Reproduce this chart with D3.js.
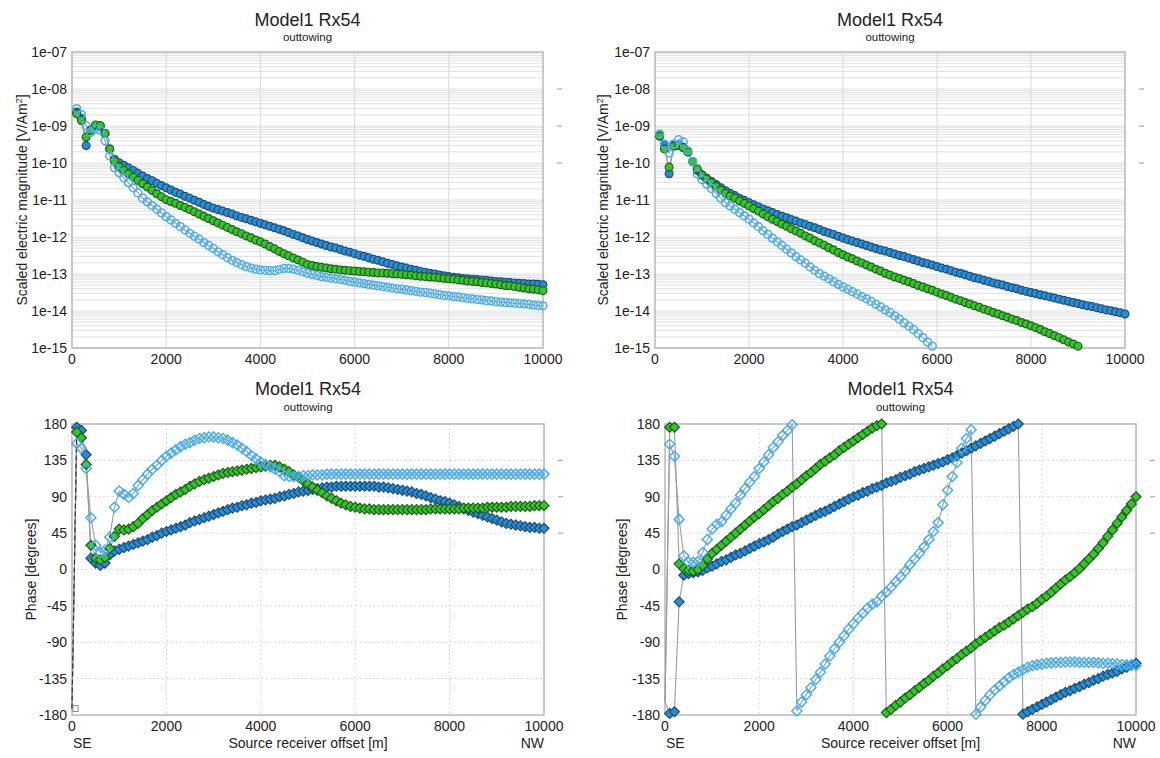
<!DOCTYPE html>
<html>
<head>
<meta charset="utf-8">
<script src="https://cdn.jsdelivr.net/npm/d3@7"></script>
<style>
  body { margin: 0; background: #fff; }
  svg { display: block; }
  text { font-family: "Liberation Sans", Arial, sans-serif; fill: #222; }
</style>
</head>
<body>
<svg id="chart" width="1160" height="758"></svg>
<script>
// ---- Data ---------------------------------------------------------------
// Samples every 100 m of source-receiver offset, first sample at 100 m.
const offsetStep = 100;
const xTicks = [0, 2000, 4000, 6000, 8000, 10000];
const magTickExponents = [-7, -8, -9, -10, -11, -12, -13, -14, -15];
const magTickLabels = ["1e-07", "1e-08", "1e-09", "1e-10", "1e-11", "1e-12", "1e-13", "1e-14", "1e-15"];
const magSideTicks = [1e-8, 1e-9, 1e-10];
const phaseTicks = [180, 135, 90, 45, 0, -45, -90, -135, -180];
const phaseSideTicks = [135, 90, 45];
const titleText = "Model1 Rx54";
const subtitleText = "outtowing";

// Magnitudes are stored as log10 of the scaled field [V/Am^2].
const magLeftDark = [
  -8.62,-8.80,-9.53,-9.10,-8.99,-9.00,-9.20,-9.62,-9.90,-9.99,
  -10.06,-10.13,-10.20,-10.28,-10.35,-10.42,-10.48,-10.55,-10.61,-10.67,
  -10.73,-10.79,-10.84,-10.90,-10.95,-11.01,-11.06,-11.12,-11.17,-11.22,
  -11.26,-11.30,-11.34,-11.38,-11.43,-11.47,-11.51,-11.55,-11.59,-11.63,
  -11.67,-11.71,-11.75,-11.79,-11.83,-11.88,-11.93,-11.97,-12.02,-12.07,
  -12.11,-12.15,-12.19,-12.23,-12.27,-12.30,-12.34,-12.38,-12.41,-12.45,
  -12.49,-12.52,-12.56,-12.60,-12.63,-12.67,-12.71,-12.74,-12.78,-12.81,
  -12.84,-12.87,-12.90,-12.93,-12.95,-12.98,-13.00,-13.03,-13.05,-13.07,
  -13.09,-13.10,-13.12,-13.13,-13.14,-13.15,-13.16,-13.17,-13.19,-13.20,
  -13.21,-13.22,-13.23,-13.24,-13.25,-13.26,-13.27,-13.27,-13.28,-13.29];
const magLeftGreen = [
  -8.67,-8.85,-9.30,-9.12,-8.97,-8.99,-9.20,-9.62,-9.95,-10.10,
  -10.20,-10.29,-10.38,-10.47,-10.56,-10.65,-10.74,-10.83,-10.91,-10.99,
  -11.04,-11.09,-11.15,-11.20,-11.26,-11.32,-11.38,-11.44,-11.50,-11.56,
  -11.62,-11.68,-11.74,-11.80,-11.86,-11.91,-11.97,-12.02,-12.08,-12.13,
  -12.19,-12.26,-12.32,-12.39,-12.45,-12.51,-12.57,-12.62,-12.68,-12.74,
  -12.77,-12.80,-12.82,-12.84,-12.86,-12.87,-12.89,-12.90,-12.91,-12.92,
  -12.93,-12.94,-12.95,-12.96,-12.97,-12.97,-12.98,-12.99,-13.00,-13.01,
  -13.02,-13.03,-13.05,-13.06,-13.07,-13.08,-13.09,-13.10,-13.12,-13.13,
  -13.14,-13.16,-13.17,-13.19,-13.20,-13.21,-13.23,-13.24,-13.26,-13.27,
  -13.29,-13.31,-13.32,-13.34,-13.36,-13.38,-13.40,-13.41,-13.43,-13.45];
const magLeftLight = [
  -8.53,-8.69,-8.99,-9.17,-9.08,-9.12,-9.40,-9.81,-10.13,-10.26,
  -10.40,-10.53,-10.67,-10.81,-10.95,-11.05,-11.15,-11.25,-11.35,-11.45,
  -11.54,-11.63,-11.72,-11.81,-11.90,-11.98,-12.06,-12.15,-12.23,-12.31,
  -12.40,-12.48,-12.56,-12.63,-12.69,-12.75,-12.80,-12.84,-12.87,-12.89,
  -12.90,-12.91,-12.91,-12.88,-12.85,-12.85,-12.87,-12.90,-12.94,-12.98,
  -13.01,-13.04,-13.07,-13.09,-13.11,-13.13,-13.15,-13.17,-13.20,-13.22,
  -13.24,-13.26,-13.28,-13.30,-13.32,-13.34,-13.36,-13.38,-13.40,-13.41,
  -13.43,-13.45,-13.47,-13.49,-13.50,-13.52,-13.54,-13.56,-13.58,-13.59,
  -13.61,-13.62,-13.64,-13.66,-13.67,-13.69,-13.70,-13.72,-13.73,-13.75,
  -13.76,-13.77,-13.78,-13.79,-13.80,-13.81,-13.82,-13.84,-13.85,-13.86];

const magRightDark = [
  -9.27,-9.50,-10.29,-9.50,-9.53,-9.58,-9.70,-9.96,-10.20,-10.32,
  -10.41,-10.50,-10.58,-10.67,-10.75,-10.82,-10.88,-10.95,-11.01,-11.07,
  -11.13,-11.18,-11.24,-11.29,-11.34,-11.39,-11.44,-11.48,-11.53,-11.57,
  -11.62,-11.66,-11.71,-11.75,-11.80,-11.85,-11.89,-11.93,-11.98,-12.03,
  -12.07,-12.11,-12.15,-12.19,-12.23,-12.27,-12.31,-12.35,-12.38,-12.42,
  -12.46,-12.50,-12.53,-12.57,-12.61,-12.65,-12.69,-12.72,-12.76,-12.80,
  -12.84,-12.87,-12.91,-12.95,-12.98,-13.02,-13.06,-13.10,-13.13,-13.17,
  -13.20,-13.24,-13.27,-13.30,-13.34,-13.37,-13.40,-13.44,-13.47,-13.50,
  -13.53,-13.56,-13.59,-13.62,-13.65,-13.68,-13.71,-13.74,-13.77,-13.80,
  -13.83,-13.86,-13.88,-13.91,-13.94,-13.97,-13.99,-14.02,-14.05,-14.08];
const magRightGreen = [
  -9.27,-9.62,-10.11,-9.55,-9.53,-9.58,-9.70,-9.96,-10.16,-10.33,
  -10.43,-10.53,-10.63,-10.73,-10.82,-10.89,-10.95,-11.02,-11.09,-11.16,
  -11.23,-11.30,-11.38,-11.45,-11.52,-11.58,-11.65,-11.71,-11.78,-11.84,
  -11.90,-11.97,-12.03,-12.10,-12.16,-12.22,-12.29,-12.35,-12.42,-12.48,
  -12.54,-12.59,-12.65,-12.70,-12.76,-12.81,-12.87,-12.92,-12.98,-13.03,
  -13.08,-13.12,-13.17,-13.21,-13.26,-13.31,-13.35,-13.40,-13.44,-13.49,
  -13.54,-13.58,-13.63,-13.68,-13.72,-13.77,-13.81,-13.86,-13.90,-13.95,
  -13.99,-14.04,-14.08,-14.13,-14.17,-14.22,-14.26,-14.31,-14.35,-14.40,
  -14.45,-14.50,-14.56,-14.61,-14.67,-14.72,-14.78,-14.84,-14.89,-14.95];
const magRightLight = [
  -9.22,-9.49,-9.73,-9.49,-9.37,-9.43,-9.67,-9.96,-10.29,-10.45,
  -10.57,-10.69,-10.82,-10.95,-11.07,-11.16,-11.25,-11.34,-11.43,-11.52,
  -11.62,-11.72,-11.83,-11.93,-12.03,-12.13,-12.23,-12.33,-12.43,-12.53,
  -12.62,-12.71,-12.81,-12.90,-12.99,-13.06,-13.13,-13.21,-13.28,-13.35,
  -13.41,-13.48,-13.54,-13.61,-13.67,-13.74,-13.82,-13.89,-13.97,-14.04,
  -14.13,-14.22,-14.32,-14.41,-14.50,-14.61,-14.72,-14.84,-14.95];

// Phases in degrees.
const phaseLeftDark = [
  176,172,142,14,8,5,8,18,23,25,
  27,29,31,33,35,37,40,42,45,47,
  49,51,53,55,58,60,62,64,66,68,
  70,72,74,76,77,79,80,82,83,85,
  86,87,88,90,91,93,94,96,97,98,
  99,100,101,102,102,103,103,103,103,103,
  103,103,103,103,102,102,101,100,99,98,
  97,96,94,93,91,89,87,85,84,82,
  80,78,75,73,71,69,67,65,63,61,
  59,57,56,55,54,53,52,52,51,51];
const phaseLeftGreen = [
  170,163,130,30,14,12,15,26,41,50,
  49,50,53,57,63,68,73,77,81,85,
  89,93,96,99,103,106,109,111,113,115,
  117,119,120,121,122,123,124,125,126,127,
  128,129,129,127,124,121,117,114,110,106,
  102,98,95,91,88,85,82,80,78,77,
  76,75,75,74,74,74,74,74,74,74,
  74,74,74,74,74,75,75,75,75,75,
  75,75,76,76,76,76,76,77,77,77,
  77,77,78,78,78,78,78,79,79,79];
const phaseLeftLight = [
  156,150,125,64,30,21,24,40,77,97,
  93,89,94,104,111,118,124,129,135,140,
  144,148,152,155,157,160,162,163,164,164,
  163,162,160,157,154,150,146,141,137,133,
  130,127,124,121,116,115,115,115,116,116,
  117,117,117,118,118,118,118,118,118,118,
  118,118,118,118,118,118,118,118,118,118,
  118,118,118,118,118,118,118,118,118,118,
  118,118,118,118,118,118,118,118,118,118,
  118,118,118,118,118,118,118,118,118,118];

const phaseRightDark = [
  -178,-176,-40,-7,-5,-4,-3,-1,2,4,
  7,10,12,15,18,20,23,26,29,32,
  34,37,40,44,47,50,53,55,58,61,
  64,67,70,72,75,78,81,84,87,90,
  92,95,97,100,102,104,107,109,111,114,
  116,118,121,123,125,127,129,131,133,136,
  138,141,144,147,150,153,156,159,162,165,
  168,171,174,177,180,-179,-176,-173,-170,-167,
  -164,-161,-158,-155,-152,-150,-147,-145,-142,-140,
  -137,-135,-132,-130,-128,-126,-123,-121,-118,-116];
const phaseRightGreen = [
  176,176,7,1,-1,-2,0,5,13,20,
  25,30,35,40,45,50,55,60,65,69,
  74,79,84,88,93,97,102,106,111,116,
  120,125,130,134,138,142,147,151,155,159,
  163,167,171,175,178,180,-177,-173,-168,-164,
  -159,-155,-150,-146,-141,-137,-132,-128,-123,-119,
  -114,-110,-105,-101,-97,-92,-88,-84,-80,-76,
  -72,-69,-65,-61,-57,-53,-49,-46,-42,-37,
  -33,-28,-23,-18,-13,-9,-4,1,7,13,
  19,26,33,41,49,57,65,73,81,90];
const phaseRightLight = [
  155,140,62,17,9,9,10,21,37,50,
  56,59,67,75,82,92,100,108,115,125,
  133,142,151,158,166,172,179,-175,-164,-155,
  -146,-136,-127,-117,-107,-98,-90,-82,-74,-67,
  -60,-54,-48,-43,-40,-33,-28,-22,-15,-9,
  -2,6,13,20,28,37,47,58,80,98,
  115,132,150,162,173,-179,-170,-162,-155,-149,
  -144,-139,-134,-130,-127,-124,-121,-119,-118,-117,
  -116,-115.5,-115,-115,-114.5,-114.5,-114.5,-115,-115,-115,
  -115,-115.5,-116,-116,-116.5,-117,-117.5,-118,-118.5,-119];

// Modelled phase at zero offset, where the model curves begin.
const phaseLeftModelStart = -172;
const phaseRightModelStart = -164;

// ---- Styles -------------------------------------------------------------
const styles = {
  dark:  { fill: "#2a8dd4", stroke: "#1b4c75", width: 1.2 },
  green: { fill: "#36c42c", stroke: "#1d5c17", width: 1.2 },
  light: { fill: "none",    stroke: "#47adef", width: 1.5 }
};

const panels = [
  { kind: "mag", x0: 72, x1: 543, y0: 52, y1: 348, titleY: 26, subY: 41, yLabelX: 22,
    series: [["dark", magLeftDark], ["green", magLeftGreen], ["light", magLeftLight]] },
  { kind: "mag", x0: 655, x1: 1125, y0: 52, y1: 348, titleY: 26, subY: 41, yLabelX: 603,
    series: [["dark", magRightDark], ["green", magRightGreen], ["light", magRightLight]] },
  { kind: "phase", x0: 72, x1: 544, y0: 424, y1: 715, titleY: 395, subY: 411, yLabelX: 31,
    modelStart: phaseLeftModelStart, startMark: true,
    series: [["dark", phaseLeftDark], ["green", phaseLeftGreen], ["light", phaseLeftLight]] },
  { kind: "phase", x0: 665, x1: 1136, y0: 424, y1: 715, titleY: 395, subY: 411, yLabelX: 622,
    modelStart: phaseRightModelStart, startMark: false,
    series: [["dark", phaseRightDark], ["green", phaseRightGreen], ["light", phaseRightLight]] }
];

const svg = d3.select("#chart");
const diamond = "M0,-5L5,0L0,5L-5,0Z";

function drawPanel(p) {
  const isMag = p.kind === "mag";
  const x = d3.scaleLinear().domain([0, 10000]).range([p.x0, p.x1]);
  const y = isMag
    ? d3.scaleLog().domain([1e-15, 1e-7]).range([p.y1, p.y0])
    : d3.scaleLinear().domain([-180, 180]).range([p.y1, p.y0]);
  const g = svg.append("g");
  const cx = (p.x0 + p.x1) / 2;

  // grid
  const grid = g.append("g");
  if (isMag) {
    const minor = [];
    for (let e = -15; e < -7; e++) for (let m = 1; m < 10; m++) minor.push(m * Math.pow(10, e));
    grid.append("g").selectAll("line").data(minor).join("line")
      .attr("x1", p.x0).attr("x2", p.x1)
      .attr("y1", d => y(d)).attr("y2", d => y(d))
      .attr("stroke", "#e0e0e0").attr("stroke-width", 1);
    grid.append("g").selectAll("line").data(xTicks.slice(1, -1)).join("line")
      .attr("x1", d => x(d)).attr("x2", d => x(d))
      .attr("y1", p.y0).attr("y2", p.y1)
      .attr("stroke", "#d9d9d9").attr("stroke-width", 1);
  } else {
    grid.append("g").selectAll("line").data(phaseTicks.slice(1, -1)).join("line")
      .attr("x1", p.x0).attr("x2", p.x1)
      .attr("y1", d => y(d)).attr("y2", d => y(d))
      .attr("stroke", "#cdcdcd").attr("stroke-width", 1).attr("stroke-dasharray", "1.5,3");
    grid.append("g").selectAll("line").data(xTicks.slice(1, -1)).join("line")
      .attr("x1", d => x(d)).attr("x2", d => x(d))
      .attr("y1", p.y0).attr("y2", p.y1)
      .attr("stroke", "#cdcdcd").attr("stroke-width", 1).attr("stroke-dasharray", "1.5,3");
  }

  // frame
  g.append("rect")
    .attr("x", p.x0).attr("y", p.y0)
    .attr("width", p.x1 - p.x0).attr("height", p.y1 - p.y0)
    .attr("fill", "none").attr("stroke", "#b8b8b8").attr("stroke-width", 1.5);

  // short marks on the right-hand side
  const side = isMag ? magSideTicks : phaseSideTicks;
  g.append("g").selectAll("line").data(side).join("line")
    .attr("x1", p.x1 + 14).attr("x2", p.x1 + 19)
    .attr("y1", d => y(d)).attr("y2", d => y(d))
    .attr("stroke", "#9a9a9a").attr("stroke-width", 1);

  const toPoints = vals => vals.map((v, i) => ({ o: (i + 1) * offsetStep, v: isMag ? Math.pow(10, v) : v }));
  const line = d3.line().x(d => x(d.o)).y(d => y(d.v));

  // model curves (thin grey) behind the markers
  const models = g.append("g");
  p.series.forEach(([key, vals]) => {
    let pts = toPoints(vals);
    if (!isMag) pts = [{ o: 0, v: p.modelStart }].concat(pts);
    models.append("path").attr("d", line(pts))
      .attr("fill", "none").attr("stroke", "#9c9c9c").attr("stroke-width", 1.1);
  });
  if (!isMag && p.startMark) {
    const first = [{ o: 0, v: p.modelStart }, toPoints(p.series[0][1])[0]];
    models.append("path").attr("d", line(first))
      .attr("fill", "none").attr("stroke", "#333").attr("stroke-width", 1.2)
      .attr("stroke-dasharray", "5,3");
    models.append("rect")
      .attr("x", x(0) + 1).attr("y", y(p.modelStart) - 3)
      .attr("width", 5).attr("height", 6)
      .attr("fill", "#fff").attr("stroke", "#888").attr("stroke-width", 1);
  }

  // markers
  p.series.forEach(([key, vals]) => {
    const st = styles[key];
    const pts = toPoints(vals);
    const layer = g.append("g");
    if (isMag) {
      layer.selectAll("circle").data(pts).join("circle")
        .attr("cx", d => x(d.o)).attr("cy", d => y(d.v)).attr("r", 3.9)
        .attr("fill", st.fill).attr("stroke", st.stroke).attr("stroke-width", st.width);
    } else {
      layer.selectAll("path").data(pts).join("path")
        .attr("d", diamond)
        .attr("transform", d => `translate(${x(d.o)},${y(d.v)})`)
        .attr("fill", st.fill).attr("stroke", st.stroke).attr("stroke-width", st.width);
    }
  });

  // y tick labels
  if (isMag) {
    g.append("g").selectAll("text").data(magTickExponents).join("text")
      .attr("x", p.x0 - 5).attr("y", d => y(Math.pow(10, d))).attr("dy", "0.35em")
      .attr("text-anchor", "end").attr("font-size", 14)
      .text((d, i) => magTickLabels[i]);
  } else {
    g.append("g").selectAll("text").data(phaseTicks).join("text")
      .attr("x", p.x0 - 5).attr("y", d => y(d)).attr("dy", "0.35em")
      .attr("text-anchor", "end").attr("font-size", 14)
      .text(d => d);
  }

  // x tick labels
  g.append("g").selectAll("text").data(xTicks).join("text")
    .attr("x", d => x(d)).attr("y", p.y1 + 16)
    .attr("text-anchor", "middle").attr("font-size", 14)
    .text(d => d);

  // titles
  g.append("text").attr("x", cx).attr("y", p.titleY)
    .attr("text-anchor", "middle").attr("font-size", 18).attr("fill", "#111")
    .text(titleText);
  g.append("text").attr("x", cx).attr("y", p.subY)
    .attr("text-anchor", "middle").attr("font-size", 11.5).attr("fill", "#444")
    .text(subtitleText);

  // y axis label
  const yl = g.append("text")
    .attr("transform", `translate(${p.yLabelX},${(p.y0 + p.y1) / 2}) rotate(-90)`)
    .attr("text-anchor", "middle").attr("dy", "0.35em").attr("font-size", 14);
  if (isMag) {
    yl.append("tspan").text("Scaled electric magnitude [V/Am");
    yl.append("tspan").attr("baseline-shift", "super").attr("font-size", 9).text("2");
    yl.append("tspan").text("]");
  } else {
    yl.text("Phase [degrees]");
  }

  // x axis label and direction markers
  if (!isMag) {
    g.append("text").attr("x", cx).attr("y", p.y1 + 33)
      .attr("text-anchor", "middle").attr("font-size", 14)
      .text("Source receiver offset [m]");
    g.append("text").attr("x", p.x0 + 1).attr("y", p.y1 + 33)
      .attr("text-anchor", "start").attr("font-size", 14).text("SE");
    g.append("text").attr("x", p.x1).attr("y", p.y1 + 33)
      .attr("text-anchor", "end").attr("font-size", 14).text("NW");
  }
}

panels.forEach(drawPanel);
</script>
</body>
</html>
